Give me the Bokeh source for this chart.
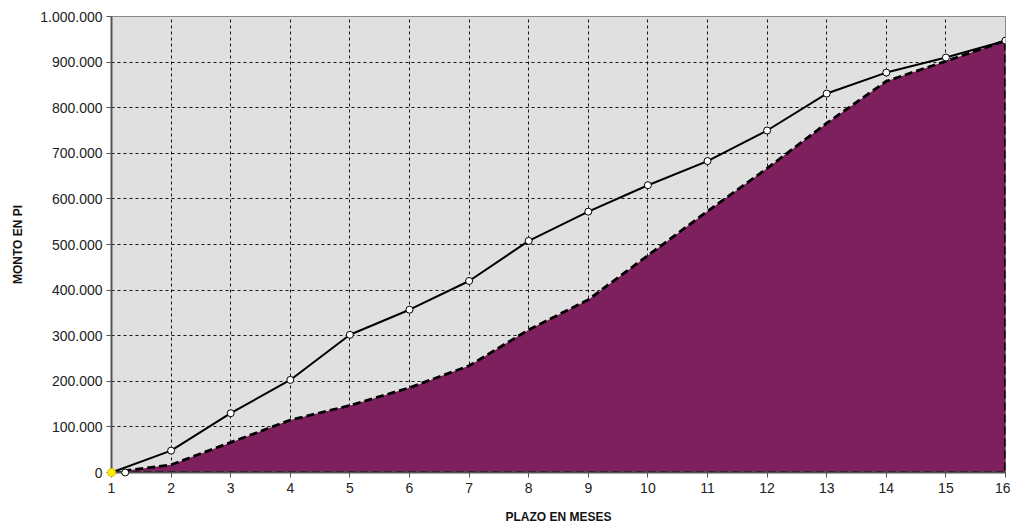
from bokeh.plotting import figure
from bokeh.models import FixedTicker, Range1d
from bokeh.embed import file_html
from bokeh.resources import INLINE

months = list(range(1, 17))
monto_line = [0, 48000, 130000, 203000, 302000, 357000, 420000, 508000, 572000,
              630000, 683000, 750000, 831000, 877000, 910000, 947000]
monto_area = [0, 17000, 66000, 115000, 147000, 186000, 234000, 313000, 379000,
              476000, 573000, 667000, 766000, 858000, 902000, 947000]
extra_x = [1.23]
extra_y = [0]
start_x = [1]
start_y = [0]
y_ticks = [0, 100000, 200000, 300000, 400000, 500000, 600000, 700000, 800000, 900000, 1000000]
y_labels = ["0", "100.000", "200.000", "300.000", "400.000", "500.000", "600.000",
            "700.000", "800.000", "900.000", "1.000.000"]

p = figure(width=1010, height=526, output_backend="svg", toolbar_location=None,
           x_range=Range1d(1, 16), y_range=Range1d(0, 1000000),
           min_border_left=111, min_border_right=5, min_border_top=16, min_border_bottom=53)

p.border_fill_color = "white"
p.background_fill_color = "#e0e0e0"
p.outline_line_color = "#8a8a8a"
p.outline_line_width = 1

# area
px = months + [months[-1], months[0]]
py = monto_area + [0, 0]
p.patch(px, py, fill_color="#7e1f5e", line_color="black", line_width=2.8, line_dash="8 4")

# line
p.line(months, monto_line, line_color="black", line_width=2)
p.scatter(months[1:], monto_line[1:], size=7, fill_color="white", line_color="black", line_width=1)
p.scatter(extra_x, extra_y, size=7, fill_color="white", line_color="black", line_width=1,
          level="overlay")
p.scatter(start_x, start_y, size=8, fill_color="#ffee00", line_color="#e0c000", line_width=1,
          level="overlay")

# grid
for g in (p.xgrid, p.ygrid):
    g.grid_line_color = "black"
    g.grid_line_dash = "3 3"
    g.grid_line_width = 1
    g.grid_line_alpha = 0.9
p.xgrid.ticker = FixedTicker(ticks=months)
p.ygrid.ticker = FixedTicker(ticks=y_ticks)

p.xaxis.ticker = FixedTicker(ticks=months)
p.yaxis.ticker = FixedTicker(ticks=y_ticks)
p.yaxis.major_label_overrides = {t: l for t, l in zip(y_ticks, y_labels)}

for ax in (p.xaxis, p.yaxis):
    ax.axis_line_color = "#555555"
    ax.axis_line_width = 2
    ax.major_tick_line_color = "#555555"
    ax.major_tick_in = 0
    ax.major_tick_out = 5
    ax.minor_tick_line_color = None
    ax.major_label_text_font = "Liberation Sans"
    ax.major_label_text_font_size = "14px"
    ax.major_label_text_color = "#222222"
    ax.axis_label_text_font = "Liberation Sans"
    ax.axis_label_text_font_style = "bold"
    ax.axis_label_text_font_size = "12px"
    ax.axis_label_text_color = "#111111"

p.xaxis.axis_label = "PLAZO EN MESES"
p.yaxis.axis_label = "MONTO EN PI"
p.xaxis.major_label_standoff = 5
p.xaxis.axis_label_standoff = 14
p.yaxis.major_label_standoff = 4
p.yaxis.axis_label_standoff = 12

open("out.html", "w").write(file_html(p, INLINE))
